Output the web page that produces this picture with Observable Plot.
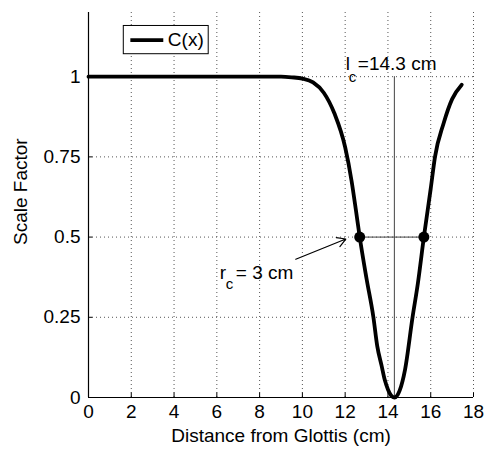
<!DOCTYPE html>
<html><head><meta charset="utf-8">
<script src="https://cdn.jsdelivr.net/npm/d3@7"></script>
<script src="https://cdn.jsdelivr.net/npm/@observablehq/plot@0.6"></script>
<style>
html,body{margin:0;padding:0;background:#fff;}
#chart svg{display:block;}
</style></head><body><div id="chart"></div>
<script>
// Curve C(x)
const curveX = [0, 2, 4, 6, 8, 9, 9.5, 10, 10.5, 11, 11.5, 12, 12.3, 12.5, 12.68, 13, 13.32, 13.5, 13.7, 13.85, 14, 14.15, 14.3, 14.45, 14.55, 14.8, 15.15, 15.4, 15.68, 16, 16.2, 16.6, 17, 17.45];
const curveY = [1, 1, 1, 1, 1, 1, 0.998, 0.994, 0.982, 0.95, 0.885, 0.78, 0.675, 0.585, 0.5, 0.37, 0.25, 0.16, 0.1, 0.055, 0.025, 0.006, 0, 0.008, 0.022, 0.087, 0.25, 0.356, 0.5, 0.651, 0.75, 0.854, 0.93, 0.975];
const xTicks = [0, 2, 4, 6, 8, 10, 12, 14, 16, 18];
const yTicks = [0, 0.25, 0.5, 0.75, 1];
const yTickLabels = ["0", "0.25", "0.5", "0.75", "1"];
const lc = 14.3;                 // l_c
const halfLevel = 0.5;
const halfX = [12.68, 15.68];    // r_c = 3 cm endpoints
const arrowStart = {x: 9.69, y: 0.431};
const arrowEnd = {x: 12.03, y: 0.494};
const rcLabelPos = {x: 6.14, y: 0.369};
const lcLabelPos = {x: 12.03, y: 1.02};
const legendBox = {x1: 1.65, x2: 5.62, y1: 1.07, y2: 1.158};
const legendLine = {x1: 1.98, x2: 3.52, y: 1.114};
const legendText = {x: 3.71, y: 1.114, label: "C(x)"};

const curve = curveX.map((x, i) => ({x, y: curveY[i]}));
const FONT = "'Liberation Sans', Arial, Helvetica, sans-serif";
const gridStyle = {stroke: "#555", strokeDasharray: "1,3", strokeWidth: 1};

const chart = Plot.plot({
  width: 485,
  height: 450,
  marginLeft: 88,
  marginRight: 12,
  marginTop: 12,
  marginBottom: 53,
  style: {fontFamily: FONT, fontSize: "19px", background: "white", color: "black"},
  x: {domain: [0, 18], ticks: xTicks, tickSize: 0, tickPadding: 7, label: null},
  y: {domain: [0, 1.2], ticks: yTicks, tickSize: 0, tickPadding: 8, label: null,
      tickFormat: (d) => yTickLabels[yTicks.indexOf(d)]},
  marks: [
    Plot.ruleX(xTicks, gridStyle),
    Plot.ruleY(yTicks, {...gridStyle, x1: 0, x2: 18}),
    Plot.ruleX(xTicks, {y1: 0, y2: 0.014, stroke: "black"}),
    Plot.ruleY(yTicks, {x1: 0, x2: 0.2, stroke: "black"}),
    Plot.ruleX([0], {stroke: "black", strokeWidth: 1.2}),
    Plot.ruleY([0], {stroke: "black", strokeWidth: 1.2}),
    Plot.ruleX([lc], {y1: 0, y2: 1, stroke: "#444", strokeWidth: 1}),
    Plot.ruleY([halfLevel], {x1: halfX[0], x2: halfX[1], stroke: "#444", strokeWidth: 1}),
    Plot.line(curve, {x: "x", y: "y", curve: "monotone-x", stroke: "black", strokeWidth: 3.8}),
    Plot.dot(halfX.map((x) => ({x, y: halfLevel})), {x: "x", y: "y", r: 5.5, fill: "black"}),
    Plot.arrow([{}], {x1: () => arrowStart.x, y1: () => arrowStart.y, x2: () => arrowEnd.x, y2: () => arrowEnd.y,
      stroke: "black", strokeWidth: 1.2, headLength: 12}),
    // r_c = 3 cm
    Plot.text(["r"], {x: () => rcLabelPos.x, y: () => rcLabelPos.y, textAnchor: "start", lineAnchor: "bottom", fontSize: 19, fill: "black"}),
    Plot.text(["c"], {x: () => rcLabelPos.x, y: () => rcLabelPos.y, dx: 6, dy: 10, textAnchor: "start", lineAnchor: "bottom", fontSize: 15, fill: "black"}),
    Plot.text(["= 3 cm"], {x: () => rcLabelPos.x, y: () => rcLabelPos.y, dx: 16, textAnchor: "start", lineAnchor: "bottom", fontSize: 19, fill: "black"}),
    // l_c = 14.3 cm
    Plot.text(["l"], {x: () => lcLabelPos.x, y: () => lcLabelPos.y, textAnchor: "start", lineAnchor: "bottom", fontSize: 19, fill: "black"}),
    Plot.text(["c"], {x: () => lcLabelPos.x, y: () => lcLabelPos.y, dx: 3, dy: 12, textAnchor: "start", lineAnchor: "bottom", fontSize: 15, fill: "black"}),
    Plot.text(["=14.3 cm"], {x: () => lcLabelPos.x, y: () => lcLabelPos.y, dx: 12, textAnchor: "start", lineAnchor: "bottom", fontSize: 19, fill: "black"}),
    // legend
    Plot.rect([legendBox], {x1: "x1", x2: "x2", y1: "y1", y2: "y2", fill: "white", stroke: "black", strokeWidth: 1}),
    Plot.ruleY([legendLine], {x1: "x1", x2: "x2", y: "y", stroke: "black", strokeWidth: 3.8}),
    Plot.text([legendText], {x: "x", y: "y", text: "label", textAnchor: "start", fontSize: 19, fill: "black"}),
    // axis labels
    Plot.text(["Distance from Glottis (cm)"], {frameAnchor: "bottom", dy: 44, lineAnchor: "bottom", fontSize: 19, fill: "black"}),
    Plot.text(["Scale Factor"], {frameAnchor: "left", dx: -68, dy: 40, rotate: -90, fontSize: 19, fill: "black"})
  ]
});
document.getElementById("chart").appendChild(chart);
</script></body></html>
